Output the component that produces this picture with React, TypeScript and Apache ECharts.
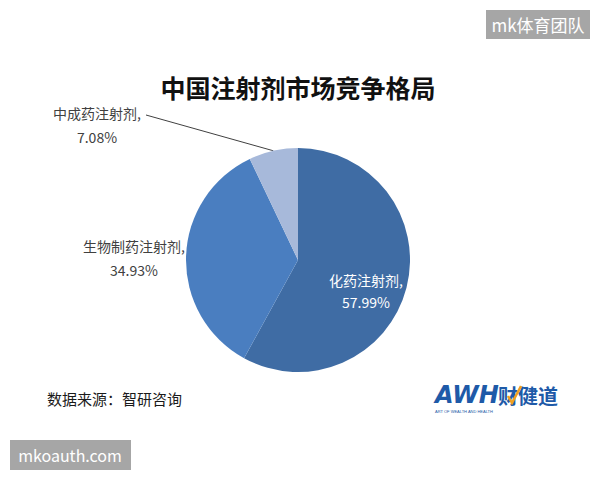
import React, { useEffect, useRef } from "react";
import * as echarts from "echarts";

const categories = ["化药注射剂", "生物制药注射剂", "中成药注射剂"];
const shares = [57.99, 34.93, 7.08];
const sliceColors = ["#3F6CA4", "#4A7EC0", "#A7B9DA"];
const titleText = "中国注射剂市场竞争格局";
const sourceText = "数据来源：智研咨询";
const watermarkTop = "mk体育团队";
const watermarkBottom = "mkoauth.com";

const FONT = '"Noto Sans CJK SC", "Noto Sans", sans-serif';

export default function App() {
  const ref = useRef<HTMLDivElement>(null);
  useEffect(() => {
    if (!ref.current) return;
    const chart = echarts.init(ref.current, null, { renderer: "svg" });
    const data = categories.map((name, i) => ({
      name,
      value: shares[i],
      itemStyle: { color: sliceColors[i] },
      label:
        i === 0
          ? { position: "inside", color: "#ffffff", lineHeight: 22 }
          : { position: "outside", color: "#404040", lineHeight: 24 },
      labelLine: { show: i === 2 },
    }));
    chart.setOption({
      animation: false,
      backgroundColor: "#ffffff",
      title: {
        text: titleText,
        left: 293,
        top: 69,
        textAlign: "center",
        textStyle: { fontFamily: FONT, fontSize: 25, fontWeight: "bold", color: "#111111" },
      },
      series: [
        {
          type: "pie",
          center: [298, 260],
          radius: 112,
          startAngle: 90,
          clockwise: true,
          avoidLabelOverlap: false,
          data,
          label: {
            fontFamily: FONT,
            fontSize: 14,
            align: "center",
            formatter: (p: any) => `${p.name},\n${Number(p.value).toFixed(2)}%`,
          },
          labelLine: {
            length: 10,
            length2: 10,
            lineStyle: { color: "#404040", width: 1 },
          },
          labelLayout: (params: any) => {
            const i = params.dataIndex;
            if (i === 0) return { x: 366, y: 291, align: "center", verticalAlign: "middle" };
            if (i === 1) return { x: 134, y: 258, align: "center", verticalAlign: "middle" };
            const pts = params.labelLinePoints;
            const res: any = { x: 97, y: 125, align: "center", verticalAlign: "middle" };
            if (pts && pts.length) res.labelLinePoints = [pts[0], [146, 115]];
            return res;
          },
          emphasis: { disabled: true },
        },
      ],
      graphic: [
        {
          type: "rect",
          shape: { x: 486, y: 10, width: 104, height: 29 },
          style: { fill: "#A6A6A6" },
          silent: true,
        },
        {
          type: "text",
          x: 538,
          y: 24.5,
          style: {
            text: watermarkTop,
            fill: "#ffffff",
            font: `17px ${FONT}`,
            align: "center",
            verticalAlign: "middle",
          },
        },
        {
          type: "rect",
          shape: { x: 10, y: 440, width: 121, height: 30 },
          style: { fill: "#A6A6A6" },
        },
        {
          type: "text",
          x: 70,
          y: 455,
          style: {
            text: watermarkBottom,
            fill: "#ffffff",
            font: `16px ${FONT}`,
            align: "center",
            verticalAlign: "middle",
          },
        },
        {
          type: "text",
          x: 47,
          y: 398,
          style: {
            text: sourceText,
            fill: "#1a1a1a",
            font: `15px ${FONT}`,
            align: "left",
            verticalAlign: "middle",
          },
        },
        {
          type: "text",
          x: 435,
          y: 395,
          style: {
            text: "AWH",
            fill: "#1E5AA8",
            font: `italic bold 24px "DejaVu Sans", sans-serif`,
            align: "left",
            verticalAlign: "middle",
          },
        },
        {
          type: "text",
          x: 498,
          y: 395,
          style: {
            text: "财健道",
            fill: "#1E5AA8",
            font: `bold 20px ${FONT}`,
            align: "left",
            verticalAlign: "middle",
          },
        },
        {
          type: "polyline",
          shape: { points: [[508, 396], [512, 403], [521, 386]] },
          style: { stroke: "#F0A020", lineWidth: 2.5, fill: null },
        },
        {
          type: "text",
          x: 435,
          y: 411,
          style: {
            text: "ART OF WEALTH AND HEALTH",
            fill: "#1E5AA8",
            font: `4px sans-serif`,
            align: "left",
            verticalAlign: "middle",
          },
        },
      ],
    });
    return () => chart.dispose();
  }, []);
  return (
    <div
      ref={ref}
      style={{ position: "fixed", left: 0, top: 0, width: 600, height: 480 }}
    />
  );
}
